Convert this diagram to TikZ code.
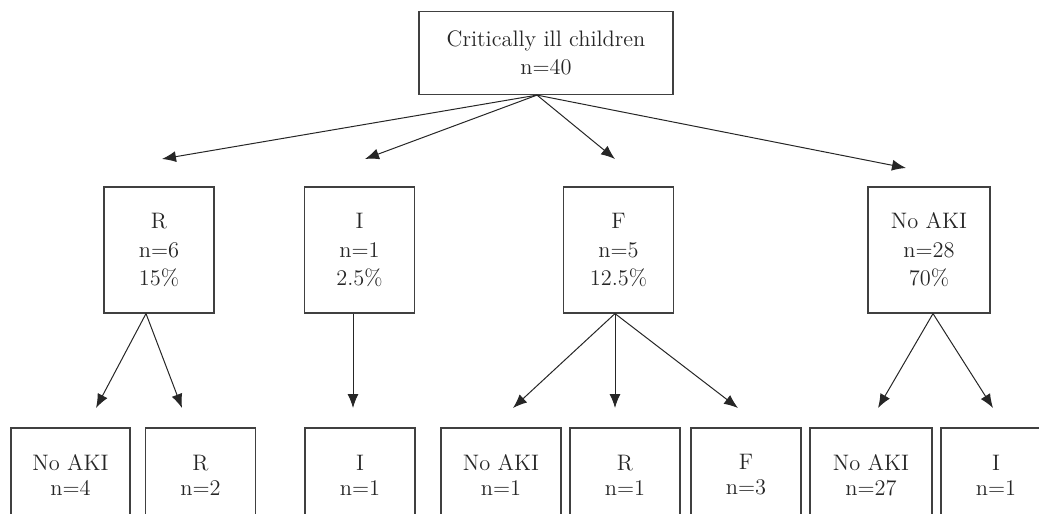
\documentclass[tikz,border=0pt]{standalone}
\usepackage{tikz}
\usetikzlibrary{arrows.meta}

\begin{document}
\begin{tikzpicture}[x=0.5pt,y=-0.5pt]

	\tikzset{box/.style={draw=black!75, line width=0.6pt, align=center, inner sep=0pt, text=black!85, font=\fontsize{11.2}{14.3}\selectfont},
		group/.style={box, minimum width=55pt, minimum height=63pt},
		leaf/.style={box, minimum width=55pt, minimum height=47pt, font=\fontsize{11.2}{12.5}\selectfont},
		branch/.style={draw=black!85, line width=0.5pt, -{Latex[length=7pt,width=5.5pt]}}}

	\useasboundingbox (0,0) rectangle (1039,514);
	\clip (0,0) rectangle (1039,514);

	% all children
	\node[box, minimum width=127pt, minimum height=41.5pt] (root) at (546,53) {Critically ill children\\n=40};

	% RIFLE groups
	\node[group] (r) at (159,250) {R\\n=6\\15\%};
	\node[group] (i) at (359.5,250) {I\\n=1\\2.5\%};
	\node[group] (f) at (618.5,250) {F\\n=5\\12.5\%};
	\node[group, minimum width=61pt] (no) at (929,250) {No AKI\\n=28\\70\%};

	% second classification
	\node[leaf, minimum width=59.5pt] (r1) at (70.5,475) {No AKI\\n=4};
	\node[leaf] (r2) at (200.5,475) {R\\n=2};
	\node[leaf] (i1) at (360,475) {I\\n=1};
	\node[leaf, minimum width=60pt] (f1) at (501,475) {No AKI\\n=1};
	\node[leaf] (f2) at (625,475) {R\\n=1};
	\node[leaf] (f3) at (746,475) {F\\n=3};
	\node[leaf, minimum width=61pt] (no1) at (871,475) {No AKI\\n=27};
	\node[leaf] (no2) at (996,475) {I\\n=1};

	% arrow tips
	\coordinate (t-r) at (162,159);
	\coordinate (t-i) at (365,159);
	\coordinate (t-f) at (615,159);
	\coordinate (t-no) at (906,168);
	\coordinate (t-r1) at (96,408);
	\coordinate (t-r2) at (182,408);
	\coordinate (t-i1) at (353,408);
	\coordinate (t-f1) at (513,408);
	\coordinate (t-f2) at (615,408);
	\coordinate (t-f3) at (738,408);
	\coordinate (t-no1) at (878,408);
	\coordinate (t-no2) at (993,408);

	\draw[branch] ([xshift=-4.5pt]root.south) -- (t-r);
	\draw[branch] ([xshift=-4.5pt]root.south) -- (t-i);
	\draw[branch] ([xshift=-4.5pt]root.south) -- (t-f);
	\draw[branch] ([xshift=-4.5pt]root.south) -- (t-no);

	\draw[branch] ([xshift=-6.5pt]r.south) -- (t-r1);
	\draw[branch] ([xshift=-6.5pt]r.south) -- (t-r2);
	\draw[branch] ([xshift=-3.25pt]i.south) -- (t-i1);
	\draw[branch] ([xshift=-1.75pt]f.south) -- (t-f1);
	\draw[branch] ([xshift=-1.75pt]f.south) -- (t-f2);
	\draw[branch] ([xshift=-1.75pt]f.south) -- (t-f3);
	\draw[branch] ([xshift=2pt]no.south) -- (t-no1);
	\draw[branch] ([xshift=2pt]no.south) -- (t-no2);

\end{tikzpicture}
\end{document}
